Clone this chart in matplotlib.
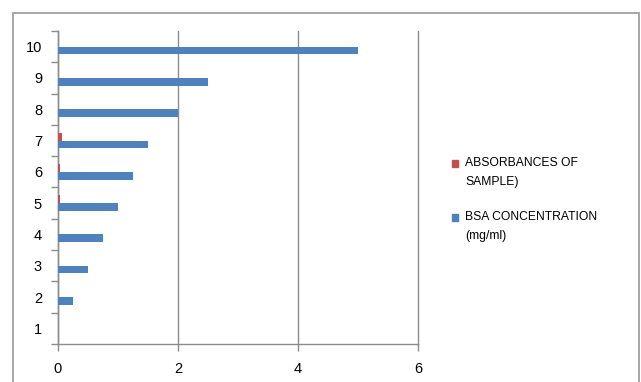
import numpy as np
import matplotlib.pyplot as plt
from matplotlib.patches import Rectangle

# samples 1..10
samples = [1, 2, 3, 4, 5, 6, 7, 8, 9, 10]
bsa_conc = [0, 0.25, 0.5, 0.75, 1.0, 1.25, 1.5, 2.0, 2.5, 5.0]
absorbance = [0, 0, 0, 0, 0.03, 0.04, 0.06, 0, 0, 0]
x_ticks = [0, 2, 4, 6]

blue = '#4F81BD'
red = '#C0504D'
gray = '#8C8C8C'

plt.rcParams['font.family'] = ['Liberation Sans', 'DejaVu Sans']

fig = plt.figure(figsize=(6.41, 3.82), dpi=100)
W, H = 641, 382

# outer chart border
fig.patches.append(Rectangle((12.5 / W, -0.05), (639 - 12.5) / W, 1.05 - 12.5 / H,
                             transform=fig.transFigure, fill=False,
                             edgecolor='#A0A0A0', lw=1.3))

ax = fig.add_axes([58 / W, 1 - 344 / H, (418 - 58) / W, (344 - 31) / H])

y = np.array(samples, dtype=float)
h = 0.245
ax.barh(y - h / 2, bsa_conc, height=h, color=blue, zorder=3)
ax.barh(y + h / 2, absorbance, height=h, color=red, zorder=3)

ax.set_xlim(0, 6)
ax.set_ylim(0.5, 10.5)
ax.set_xticks(x_ticks)
ax.set_yticks(samples)
ax.set_yticks(np.arange(0.5, 11, 1), minor=True)
ax.tick_params(axis='y', which='major', length=0, pad=11.5, labelsize=10.5)
ax.tick_params(axis='y', which='minor', length=5, width=1, color=gray, direction='out')
ax.tick_params(axis='x', length=5, width=1, color=gray, direction='out', pad=8, labelsize=10.5)

ax.xaxis.grid(True, color=gray, lw=1, zorder=0)
for line in ax.get_xgridlines():
    line.set_clip_on(False)
for s in ['top', 'right']:
    ax.spines[s].set_visible(False)
for s in ['left', 'bottom']:
    ax.spines[s].set_color(gray)
    ax.spines[s].set_linewidth(1)

# legend entries
legend_items = [(red, 'ABSORBANCES OF\nSAMPLE)', 163), (blue, 'BSA CONCENTRATION\n(mg/ml)', 217)]
for color, label, ypx in legend_items:
    fig.patches.append(Rectangle((452 / W, 1 - (ypx + 4) / H), 6 / W, 7 / H,
                                 transform=fig.transFigure, color=color))
    fig.text(465 / W, 1 - (ypx - 6) / H, label, fontsize=8.7, va='top', ha='left',
             linespacing=1.75)

fig.savefig('out.png', dpi=100)
